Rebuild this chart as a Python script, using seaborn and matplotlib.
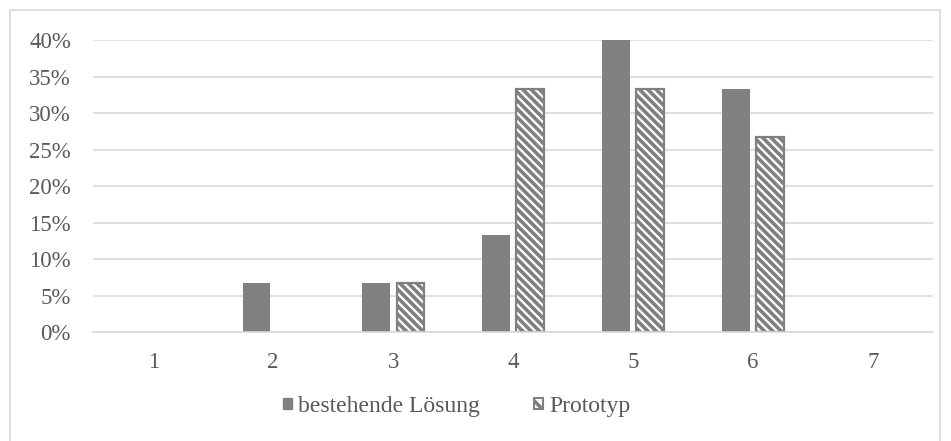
import pandas as pd
import numpy as np
import matplotlib
matplotlib.use('Agg')
import matplotlib.pyplot as plt
from matplotlib.patches import Rectangle
import seaborn as sns

categories = ['1', '2', '3', '4', '5', '6', '7']
bestehend = [0.0, 6.67, 6.67, 13.33, 40.0, 33.33, 0.0]
prototyp = [0.0, 0.0, 6.67, 33.33, 33.33, 26.67, 0.0]
series_names = ['bestehende Lösung', 'Prototyp']
yticks = [0, 5, 10, 15, 20, 25, 30, 35, 40]

df = pd.DataFrame({
    'Kategorie': categories * 2,
    'Wert': bestehend + prototyp,
    'Serie': [series_names[0]] * len(categories) + [series_names[1]] * len(categories),
})

sns.set_style('white')
plt.rcParams['font.family'] = ['Liberation Serif', 'DejaVu Serif']
plt.rcParams['hatch.linewidth'] = 2.6
plt.rcParams['hatch.color'] = '#808080'

text_col = '#595959'
grid_col = '#d9d9d9'
gray = '#808080'

fig = plt.figure(figsize=(9.51, 4.41), dpi=100)
ax = fig.add_axes([0.098, 0.247, 0.883, 0.662])

sns.barplot(data=df, x='Kategorie', y='Wert', hue='Serie', order=categories,
            hue_order=series_names, palette=[gray, 'white'], width=0.567, gap=0.2,
            ax=ax, legend=False, linewidth=0)

n = len(categories)
for p in ax.patches[n:2 * n]:
    if p.get_height() > 0:
        p.set_hatch('\\\\\\\\')
        p.set_edgecolor(gray)
        p.set_linewidth(1.6)
    else:
        p.set_visible(False)

ax.set_ylim(0, 40)
ax.set_xlim(-0.5, n - 0.5)
ax.set_yticks(yticks)
ax.set_yticklabels([f'{t}%' for t in yticks])
ax.yaxis.grid(True, color=grid_col, linewidth=1.2)
ax.set_axisbelow(True)
for s in ['top', 'right', 'left']:
    ax.spines[s].set_visible(False)
ax.spines['bottom'].set_color(grid_col)
ax.spines['bottom'].set_linewidth(1.2)
ax.tick_params(axis='both', length=0, labelsize=16.5, colors=text_col)
ax.tick_params(axis='x', pad=14)
ax.tick_params(axis='y', pad=16)
ax.set_xlabel('')
ax.set_ylabel('')

h1 = Rectangle((0, 0), 1, 1, facecolor=gray, edgecolor=gray)
h2 = Rectangle((0, 0), 1, 1, facecolor='white', edgecolor=gray, hatch='\\\\', linewidth=1.5)
fig.legend([h1, h2], series_names, loc='center', bbox_to_anchor=(0.48, 0.078), ncol=2,
           frameon=False, fontsize=17, labelcolor=text_col, handlelength=0.38,
           handleheight=0.38, handletextpad=0.25, columnspacing=2.3)

fig.patches.append(Rectangle((10 / 951, -0.01), 930 / 951, 1 - 10 / 441 + 0.01,
                             transform=fig.transFigure, fill=False,
                             edgecolor=grid_col, linewidth=1.2))

fig.savefig('out.png', dpi=100)
